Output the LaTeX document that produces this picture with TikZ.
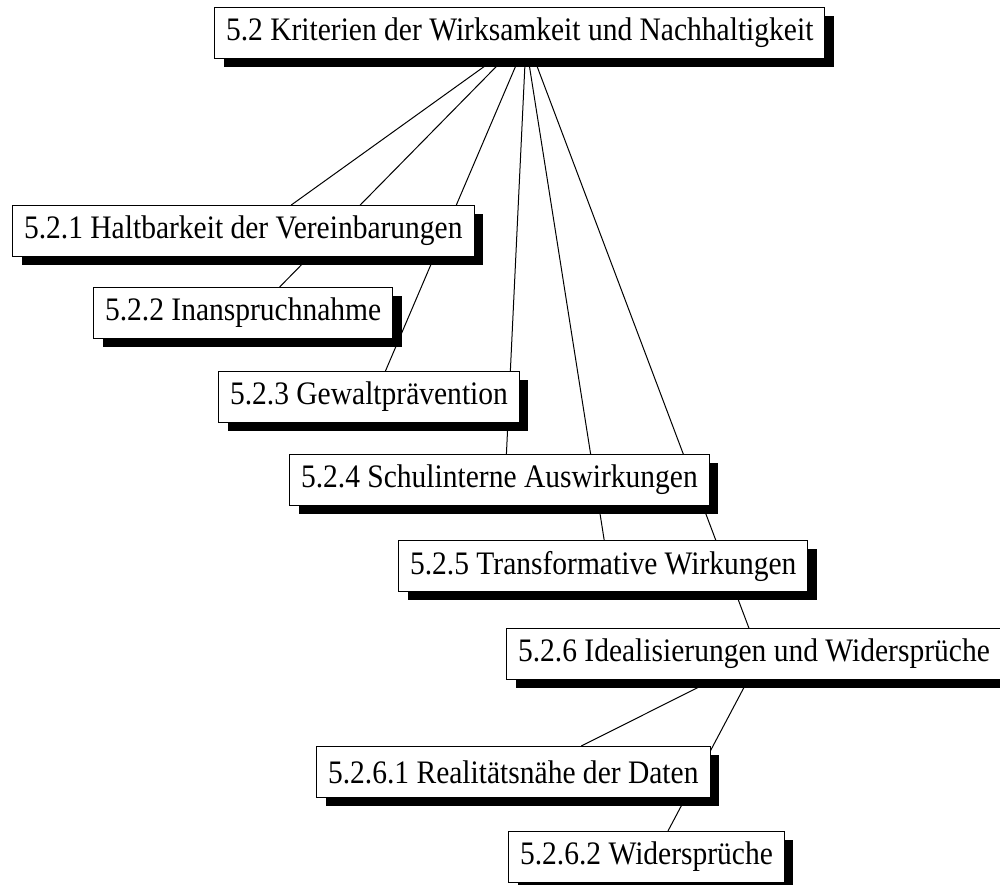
\documentclass[tikz,border=0pt]{standalone}
\usepackage{fontspec}
\setmainfont[FakeStretch=0.9]{Liberation Serif}
\usetikzlibrary{shadows,backgrounds}
\tikzset{
  topic/.style={draw=black,line width=1pt,fill=white,anchor=north west,
    inner xsep=11.5pt,inner ysep=0pt,minimum height=51pt,
    font=\fontsize{32.8}{38}\selectfont,
    drop shadow={shadow xshift=9pt,shadow yshift=-8pt,fill=black,opacity=1}},
  link/.style={draw=black,line width=1pt}
}
\begin{document}
\begin{tikzpicture}[x=1pt,y=-1pt]
        \useasboundingbox(0,0)rectangle(1000,884);
        \node[topic](K)at(214,7){5.2 Kriterien der Wirksamkeit und Nachhaltigkeit};
        \node[topic](K1)at(12,205){5.2.1 Haltbarkeit der Vereinbarungen};
        \node[topic](K2)at(93,287){5.2.2 Inanspruchnahme};
        \node[topic](K3)at(218,371){5.2.3 Gewaltprävention};
        \node[topic](K4)at(289,454){5.2.4 Schulinterne Auswirkungen};
        \node[topic](K5)at(398,540){5.2.5 Transformative Wirkungen};
        \node[topic](K6)at(506,628){5.2.6 Idealisierungen und Widersprüche};
        \node[topic](K61)at(316,746){5.2.6.1 Realitätsnähe der Daten};
        \node[topic](K62)at(508,831){5.2.6.2 Widersprüche};
        \begin{scope}[on background layer]
        \fill[white](0,0)rectangle(1000,884);
        \draw[link]([xshift=-25pt]K.south)--([xshift=48pt]K1.north);
        \draw[link]([xshift=-16pt]K.south)--([xshift=36.5pt]K2.north);
        \draw[link]([xshift=-1pt]K.south)--([xshift=16.5pt]K3.north);
        \draw[link]([xshift=5.5pt]K.south)--([xshift=7pt]K4.north);
        \draw[link]([xshift=8.6pt]K.south)--([xshift=1pt]K5.north);
        \draw[link]([xshift=14.6pt]K.south)--([xshift=-5pt]K6.north);
        \draw[link]([xshift=-41pt]K6.south)--([xshift=68pt]K61.north);
        \draw[link]([xshift=-6pt]K6.south)--([xshift=21.5pt]K62.north);
        \end{scope}
\end{tikzpicture}
\end{document}
